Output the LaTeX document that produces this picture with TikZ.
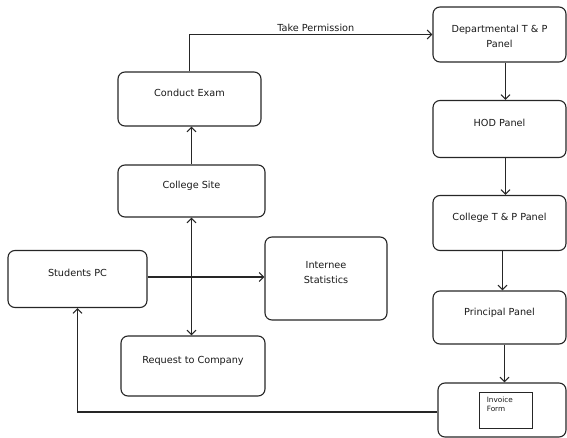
\documentclass[tikz,border=0pt]{standalone}
\usepackage{fontspec}
\setmainfont{DejaVu Sans}
\usetikzlibrary{arrows.meta}

\newcommand{\twolines}[2]{\begin{tabular}{@{}c@{}}#1\\[4pt]#2\end{tabular}}

\begin{document}
\begin{tikzpicture}[x=1pt, y=-1pt,
  box/.style={draw=black!85, line width=1.1pt, rounded corners=7pt, text=black!90,
    font=\fontsize{9.7}{11.5}\selectfont},
  uptext/.style={text height=7pt, text depth=12pt},
  link/.style={draw=black!85, line width=1.1pt, -{Straight Barb[length=4.5pt,width=9pt]}},
  both/.style={link, {Straight Barb[length=4.5pt,width=9pt]}-{Straight Barb[length=4.5pt,width=9pt]}}]
\useasboundingbox (0,0) rectangle (567,438);

\node[box, uptext, minimum width=143, minimum height=54] (exam) at (189.5,99) {Conduct Exam};
\node[box, uptext, minimum width=147, minimum height=52] (site) at (191.5,191) {College Site};
\node[box, uptext, minimum width=139, minimum height=57] (pc) at (77.5,279) {Students PC};
\node[box, uptext, minimum width=144, minimum height=60] (req) at (193,366) {Request to Company};
\node[box, uptext, minimum width=122, minimum height=83] (stats) at (326,278.5) {\twolines{Internee}{Statistics}};

\node[box, minimum width=133, minimum height=55] (dept) at (499.5,34.5)
  {\raisebox{-3pt}[\height][\depth]{\twolines{Departmental T \& P}{Panel}}};
\node[box, uptext, minimum width=133, minimum height=57] (hod) at (499.5,129) {HOD Panel};
\node[box, uptext, minimum width=133, minimum height=55] (ctp) at (499.5,223) {College T \& P Panel};
\node[box, uptext, minimum width=133, minimum height=53] (princ) at (499.5,317.5) {Principal Panel};
\node[box, minimum width=128, minimum height=54] (inv) at (502,410) {};
\node[draw=black!85, line width=0.8pt, minimum width=53, minimum height=36] (form) at (505.5,410) {};
\node[anchor=north west, inner sep=0, align=left, text=black!90,
  font=\fontsize{7.3}{9}\selectfont] (formtext) at ([xshift=8pt,yshift=-5pt]form.north west) {Invoice\\Form};

\draw[link] (exam.north) |- (dept.west)
  node[pos=0.76, above, inner sep=2pt, text=black!90, font=\fontsize{9.7}{11.5}\selectfont] {Take Permission};
\draw[link] (site.north) -- (site.north |- exam.south);
\draw[both] (site.south) -- (site.south |- req.north);
\draw[link] ([yshift=2pt]pc.east) -- ([yshift=2pt]pc.east -| stats.west);
\draw[link] ([xshift=6pt]dept.south) -- ([xshift=6pt]hod.north);
\draw[link] ([xshift=6pt]hod.south) -- ([xshift=6pt]ctp.north);
\draw[link] ([xshift=3pt]ctp.south) -- ([xshift=3pt]princ.north);
\draw[link] ([xshift=5pt]princ.south) -- ([xshift=2.5pt]inv.north);
\draw[link] ([yshift=-2pt]inv.west) -| (pc.south);
\end{tikzpicture}
\end{document}
